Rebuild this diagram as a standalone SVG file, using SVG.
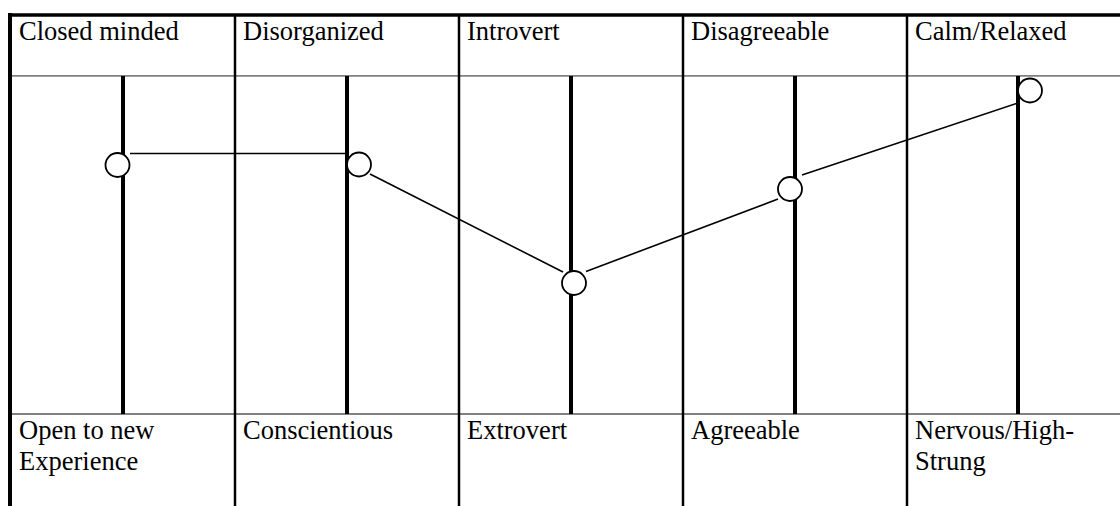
<svg xmlns="http://www.w3.org/2000/svg" width="1120" height="506" viewBox="0 0 1120 506">
<style>
.t{font-family:"Liberation Serif","Times New Roman",serif;font-size:26.5px;fill:#000}
.sep{stroke:#000;stroke-width:2.5}
.gray{stroke:#808080;stroke-width:1.8}
.bar{stroke:#000;stroke-width:4}
.ln{stroke:#000;stroke-width:1.6;fill:none}
.pt{fill:#fff;stroke:#000;stroke-width:1.8}
</style>
<rect width="1120" height="506" fill="#fff"/>
<g id="grid">
<line class="gray" x1="10" y1="75.8" x2="1120" y2="75.8"/>
<line class="gray" x1="10" y1="414" x2="1120" y2="414"/>
<line class="sep" x1="235" y1="15" x2="235" y2="506"/>
<line class="sep" x1="459" y1="15" x2="459" y2="506"/>
<line class="sep" x1="683" y1="15" x2="683" y2="506"/>
<line class="sep" x1="907" y1="15" x2="907" y2="506"/>
<line stroke="#000" stroke-width="3.6" x1="8" y1="15" x2="1120" y2="15"/>
<line stroke="#000" stroke-width="4" x1="10" y1="13" x2="10" y2="506"/>
</g>
<g id="col1">
<line class="bar" x1="123" y1="76" x2="123" y2="414"/>
<text class="t" x="19" y="39.5">Closed minded</text>
<text class="t" x="19" y="439">Open to new</text>
<text class="t" x="19" y="469.5">Experience</text>
</g>
<g id="col2">
<line class="bar" x1="347" y1="76" x2="347" y2="414"/>
<text class="t" x="243" y="39.5">Disorganized</text>
<text class="t" x="243" y="439">Conscientious</text>
</g>
<g id="col3">
<line class="bar" x1="571" y1="76" x2="571" y2="414"/>
<text class="t" x="467" y="39.5">Introvert</text>
<text class="t" x="467" y="439">Extrovert</text>
</g>
<g id="col4">
<line class="bar" x1="795" y1="76" x2="795" y2="414"/>
<text class="t" x="691" y="39.5">Disagreeable</text>
<text class="t" x="691" y="439">Agreeable</text>
</g>
<g id="col5">
<line class="bar" x1="1018" y1="76" x2="1018" y2="414"/>
<text class="t" x="915" y="39.5">Calm/Relaxed</text>
<text class="t" x="915" y="439">Nervous/High-</text>
<text class="t" x="915" y="469.5">Strung</text>
</g>
<g id="connectors">
<line class="ln" x1="130" y1="153.5" x2="348" y2="153.5"/>
<line class="ln" x1="370" y1="174" x2="563" y2="272"/>
<line class="ln" x1="586" y1="271.5" x2="778" y2="199"/>
<line class="ln" x1="802" y1="175" x2="1018" y2="103"/>
</g>
<g id="points">
<circle id="p1" class="pt" cx="117.5" cy="165" r="12"/>
<circle id="p2" class="pt" cx="359" cy="164.5" r="12"/>
<circle id="p3" class="pt" cx="574" cy="283" r="12"/>
<circle id="p4" class="pt" cx="790" cy="189" r="12"/>
<circle id="p5" class="pt" cx="1030" cy="90.5" r="12"/>
</g>
</svg>
